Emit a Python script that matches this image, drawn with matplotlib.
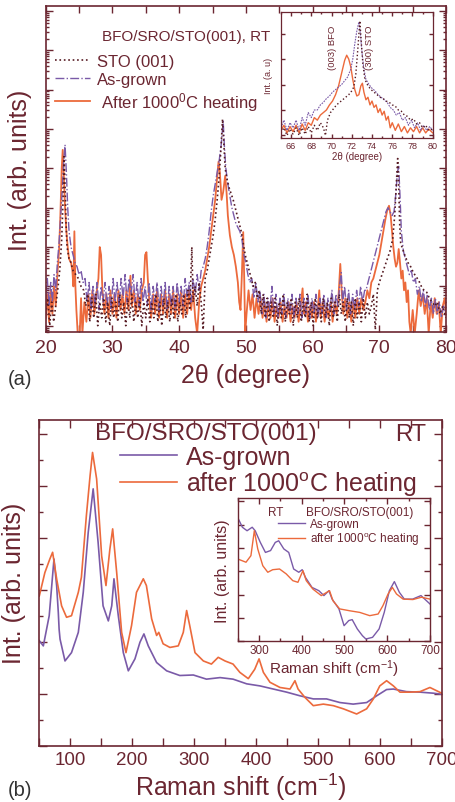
import numpy as np
import matplotlib
matplotlib.use("Agg")
import matplotlib.pyplot as plt
from matplotlib.ticker import MultipleLocator, LogLocator, NullFormatter, NullLocator

plt.rcParams['font.family'] = ['Liberation Sans', 'DejaVu Sans']
plt.rcParams['mathtext.fontset'] = 'custom'
plt.rcParams['mathtext.rm'] = 'Liberation Sans'
plt.rcParams['mathtext.it'] = 'Liberation Sans:italic'

MAROON = '#6b2631'
ORANGE = '#ec6a3c'
PURPLE = '#7a5aa8'
DARK = '#561a22'

# ---------------- (a) XRD, values are log10(intensity) ----------------
sto_a = [(20.0, 0.3), (20.3, 0.7), (20.6, 0.0), (20.9, 0.6), (21.2, 0.1), (21.5, 0.5), (21.8, 0.9),
         (22.1, 1.4), (22.4, 2.2), (22.6, 3.2), (22.75, 4.3), (22.9, 3.6), (23.05, 2.6), (23.2, 2.0),
         (23.5, 1.7), (23.8, 1.6), (24.1, 1.4), (24.5, 1.3), (24.9, 1.2), (25.3, 1.0), (25.7, 0.9),
         (26.0, 0.5), (26.3, 0.8), (26.6, 0.1), (26.9, 0.7), (27.2, 0.2), (27.5, 0.8), (27.8, 0.0),
         (28.1, 0.6), (28.4, 0.2), (28.7, 0.7), (29.0, 0.1), (29.3, 0.6), (29.6, 0.0), (29.9, 0.7),
         (30.2, 0.2), (30.5, 0.6), (30.8, 0.1), (31.1, 0.8), (31.4, 0.2), (31.7, 0.6), (32.0, 0.0),
         (32.3, 0.7), (32.6, 0.2), (32.9, 0.8), (33.2, 0.1), (33.5, 0.6), (33.8, 0.2), (34.1, 0.7),
         (34.4, 0.0), (34.7, 0.6), (35.0, 0.2), (35.3, 0.7), (35.6, 0.1), (35.9, 0.6), (36.2, 0.2),
         (36.5, 0.8), (36.8, 0.1), (37.1, 0.6), (37.4, 0.0), (37.7, 0.7), (38.0, 0.2), (38.3, 0.6),
         (38.6, 0.1), (38.9, 0.7), (39.2, 0.2), (39.5, 0.8), (39.8, 0.1), (40.1, 0.6), (40.4, 0.3),
         (40.7, 0.8), (41.0, 0.2), (41.3, 0.9), (41.6, 0.4), (41.9, 2.0), (42.1, 0.6), (42.4, 1.0),
         (42.7, 0.5), (43.0, 1.1), (43.3, 0.6), (43.6, -0.1), (43.9, 1.2), (44.2, 1.4), (44.5, 1.7),
         (44.8, 2.0), (45.1, 2.3), (45.4, 2.7), (45.7, 3.2), (46.0, 3.8), (46.3, 4.6), (46.5, 5.25),
         (46.7, 4.6), (46.9, 4.0), (47.2, 3.7), (47.5, 3.5), (47.8, 3.35), (48.1, 3.2), (48.4, 3.0),
         (48.7, 2.8), (49.0, 2.6), (49.3, 2.4), (49.6, 2.1), (49.9, 1.8), (50.2, 1.6), (50.5, 1.4),
         (50.8, 1.2), (51.1, 1.0), (51.4, 1.1), (51.7, 0.7), (52.0, 0.9), (52.3, 0.3), (52.6, 0.8),
         (52.9, 0.2), (53.2, 0.7), (53.5, 0.1), (53.8, 0.6), (54.1, 0.2), (54.4, 0.7), (54.7, 0.0),
         (55.0, 0.6), (55.3, 0.2), (55.6, 0.8), (55.9, 0.1), (56.2, 0.6), (56.5, 0.3), (56.8, 0.7),
         (57.1, 0.0), (57.4, 0.6), (57.7, 0.2), (58.0, 0.7), (58.3, 0.1), (58.6, 0.6), (58.9, 0.2),
         (59.2, 0.8), (59.5, 0.1), (59.8, 0.6), (60.1, 0.0), (60.4, 0.7), (60.7, 0.2), (61.0, 0.6),
         (61.3, 0.1), (61.6, 0.7), (61.9, 0.2), (62.2, 0.6), (62.5, 0.0), (62.8, 0.7), (63.1, 0.2),
         (63.4, 0.6), (63.7, 0.1), (64.0, 0.8), (64.3, 0.3), (64.6, 0.6), (64.9, 0.1), (65.2, 0.7),
         (65.5, 0.2), (65.8, 0.6), (66.1, 0.0), (66.4, 0.7), (66.7, 0.2), (67.0, 0.6), (67.3, 0.1),
         (67.6, 0.7), (67.9, 0.2), (68.2, 0.6), (68.5, 0.3), (68.8, 0.5), (69.1, 0.8), (69.4, -0.1),
         (69.7, 0.9), (70.0, 1.1), (70.4, 1.3), (70.8, 1.5), (71.2, 1.7), (71.6, 1.9), (72.0, 2.2),
         (72.3, 2.8), (72.55, 3.6), (72.75, 4.25), (72.9, 3.6), (73.05, 2.6), (73.2, 2.1), (73.5, 1.95),
         (73.9, 1.75), (74.3, 1.6), (74.7, 1.5), (75.1, 1.35), (75.5, 1.25), (75.9, 1.15), (76.3, 1.0),
         (76.7, 0.9), (77.1, 0.85), (77.5, 0.7), (77.9, 0.6), (78.3, 0.5), (78.7, 0.6), (79.1, 0.3),
         (79.5, 0.5), (80.0, 0.2)]

grown_a = [(20.0, 0.8), (20.25, 1.2), (20.5, 0.5), (20.75, 1.1), (21.0, 0.6), (21.25, 1.3), (21.5, 0.9),
           (21.75, 1.6), (22.0, 2.1), (22.25, 2.8), (22.5, 3.5), (22.7, 4.2), (22.9, 4.6), (23.1, 3.9),
           (23.3, 3.0), (23.5, 2.4), (23.8, 2.0), (24.1, 1.8), (24.4, 1.6), (24.7, 1.5), (25.0, 1.3),
           (25.3, 1.4), (25.6, 1.1), (25.9, 1.2), (26.2, 0.6), (26.5, 1.1), (26.8, 0.4), (27.1, 1.0),
           (27.4, 0.5), (27.7, 1.1), (28.0, 0.4), (28.3, 1.0), (28.6, 0.6), (28.9, 1.1), (29.2, 0.5),
           (29.5, 1.0), (29.8, 0.4), (30.1, 1.2), (30.4, 0.6), (30.7, 1.1), (31.0, 0.5), (31.3, 1.2),
           (31.6, 0.7), (31.9, 1.3), (32.2, 0.6), (32.5, 1.2), (32.8, 0.8), (33.1, 1.3), (33.4, 0.6),
           (33.7, 1.1), (34.0, 0.5), (34.3, 1.2), (34.6, 0.6), (34.9, 1.0), (35.2, 0.5), (35.5, 1.1),
           (35.8, 0.4), (36.1, 1.0), (36.4, 0.6), (36.7, 1.1), (37.0, 0.4), (37.3, 1.0), (37.6, 0.5),
           (37.9, 1.1), (38.2, 0.4), (38.5, 1.0), (38.8, 0.5), (39.1, 1.0), (39.4, 0.4), (39.7, 1.1),
           (40.0, 0.6), (40.3, 1.0), (40.6, 0.5), (40.9, 1.2), (41.2, 0.7), (41.5, 1.1), (41.8, 0.6),
           (42.1, 1.2), (42.4, 0.8), (42.7, 1.3), (43.0, 0.9), (43.3, 1.4), (43.6, 1.5), (43.9, 1.7),
           (44.2, 2.0), (44.5, 2.4), (44.8, 2.9), (45.1, 3.3), (45.4, 3.6), (45.7, 3.9), (46.0, 4.2),
           (46.3, 4.6), (46.6, 5.2), (46.8, 4.5), (47.0, 4.0), (47.3, 3.6), (47.6, 3.3), (47.9, 3.0),
           (48.2, 2.8), (48.5, 2.6), (48.8, 2.5), (49.1, 2.4), (49.4, 2.2), (49.7, 1.8), (50.0, 1.6),
           (50.3, 1.3), (50.6, 1.1), (50.9, 1.2), (51.2, 0.7), (51.5, 1.1), (51.8, 0.6), (52.1, 0.9),
           (52.4, 0.3), (52.7, 0.8), (53.0, 0.2), (53.3, 0.7), (53.6, 0.4), (53.9, 1.0), (54.2, 0.3),
           (54.5, 0.8), (54.8, 0.2), (55.1, 0.7), (55.4, 0.3), (55.7, 0.8), (56.0, 0.2), (56.3, 0.7),
           (56.6, 0.3), (56.9, 0.8), (57.2, 0.2), (57.5, 0.7), (57.8, 0.3), (58.1, 0.8), (58.4, 0.2),
           (58.7, 0.7), (59.0, 0.3), (59.3, 0.8), (59.6, 0.2), (59.9, 0.7), (60.2, 0.3), (60.5, 0.8),
           (60.8, 0.2), (61.1, 0.7), (61.4, 0.3), (61.7, 0.8), (62.0, 0.2), (62.3, 0.7), (62.6, 0.4),
           (62.9, 0.9), (63.2, 0.3), (63.5, 0.8), (63.8, 0.5), (64.1, 1.1), (64.3, 1.35), (64.5, 0.6),
           (64.8, 1.0), (65.1, 0.4), (65.4, 0.9), (65.7, 0.3), (66.0, 0.8), (66.3, 0.4), (66.6, 0.9),
           (66.9, 0.5), (67.2, 1.0), (67.5, 0.6), (67.8, 0.9), (68.0, 0.9), (68.3, 1.1), (68.6, 1.3),
           (68.9, 1.5), (69.2, 1.7), (69.5, 1.9), (69.8, 2.1), (70.1, 2.3), (70.4, 2.5), (70.7, 2.7),
           (71.0, 2.9), (71.3, 3.0), (71.6, 2.9), (71.9, 2.8), (72.2, 2.9), (72.5, 3.4), (72.7, 3.9),
           (72.9, 4.05), (73.1, 3.3), (73.3, 2.4), (73.6, 1.9), (73.9, 1.7), (74.2, 1.5), (74.5, 1.3),
           (74.8, 1.4), (75.1, 1.1), (75.4, 1.2), (75.7, 0.8), (76.0, 1.0), (76.3, 0.6), (76.6, 0.9),
           (76.9, 0.5), (77.2, 0.8), (77.5, 0.4), (77.8, 0.7), (78.1, 0.3), (78.4, 0.7), (78.7, 0.3),
           (79.0, 0.6), (79.3, 0.2), (79.6, 0.5), (80.0, 0.3)]

heated_a = [(20.0, 0.2), (20.25, 0.8), (20.5, 0.1), (20.75, 0.9), (21.0, 0.3), (21.25, 1.0), (21.5, 0.5),
            (21.75, 1.3), (22.0, 1.9), (22.2, 2.8), (22.4, 4.0), (22.55, 4.47), (22.7, 3.9), (22.9, 3.0),
            (23.1, 2.4), (23.3, 2.0), (23.5, 1.7), (23.8, 1.6), (24.0, 1.4), (24.15, 1.0), (24.3, 2.4),
            (24.45, 1.0), (24.6, 0.4), (24.8, -0.2), (25.1, -0.2), (25.3, 0.7), (25.5, -0.2), (25.8, 0.6),
            (26.1, 0.1), (26.4, 0.8), (26.7, 0.2), (27.0, 0.9), (27.3, 0.3), (27.6, 0.8), (27.9, 1.2),
            (28.1, 2.0), (28.3, 1.8), (28.5, 0.9), (28.8, 0.3), (29.1, 0.8), (29.4, 0.2), (29.7, 0.9),
            (30.0, 0.3), (30.3, 0.8), (30.6, 0.2), (30.9, 0.9), (31.2, 0.4), (31.5, 0.8), (31.8, 0.3),
            (32.1, 0.9), (32.4, 0.4), (32.7, 1.27), (32.9, 0.5), (33.2, 0.9), (33.5, 0.3), (33.8, 0.8),
            (34.1, 0.4), (34.4, 0.9), (34.7, 1.1), (34.9, 1.8), (35.1, 1.87), (35.3, 1.2), (35.5, 0.7),
            (35.8, 0.2), (36.1, 0.8), (36.4, 0.3), (36.7, 0.9), (37.0, 0.2), (37.3, 0.8), (37.6, 0.3),
            (37.9, 0.9), (38.2, 0.2), (38.5, 0.8), (38.8, 0.3), (39.1, 0.9), (39.4, 0.2), (39.7, 0.8),
            (40.0, 0.3), (40.3, 0.9), (40.6, 0.2), (40.9, 0.8), (41.2, 0.3), (41.5, 0.9), (41.8, 0.4),
            (42.1, 0.9), (42.4, 0.2), (42.7, -0.2), (43.0, 0.6), (43.3, 1.0), (43.6, 1.2), (43.9, 1.4),
            (44.2, 1.7), (44.5, 2.0), (44.8, 2.4), (45.1, 2.8), (45.4, 3.2), (45.7, 3.8), (45.9, 4.17),
            (46.1, 3.9), (46.35, 3.2), (46.6, 3.4), (46.9, 3.81), (47.1, 3.4), (47.3, 2.8), (47.6, 2.3),
            (47.9, 2.0), (48.2, 1.8), (48.5, 1.5), (48.8, 1.1), (49.0, 0.6), (49.2, 0.4), (49.4, 1.3),
            (49.6, 2.38), (49.75, 1.2), (49.9, -0.2), (50.1, 0.3), (50.4, 0.9), (50.7, 0.4), (51.0, 0.8),
            (51.3, 0.2), (51.6, 0.7), (51.9, 0.3), (52.2, 0.7), (52.5, 0.2), (52.8, 0.6), (53.1, 0.1),
            (53.4, 0.6), (53.7, 0.2), (54.0, 0.7), (54.3, 0.1), (54.6, 0.5), (54.9, 0.2), (55.2, 0.6),
            (55.5, 0.1), (55.8, 0.5), (56.1, 0.2), (56.4, 0.6), (56.7, 0.1), (57.0, 0.5), (57.3, 0.2),
            (57.6, 0.6), (57.9, 0.1), (58.2, 0.5), (58.5, 0.95), (58.7, 0.3), (59.0, 0.6), (59.3, 0.1),
            (59.6, 0.5), (59.9, 0.2), (60.2, 0.6), (60.5, 0.1), (60.8, 0.5), (61.0, 0.9), (61.2, 0.2),
            (61.5, 0.6), (61.8, 0.1), (62.1, 0.5), (62.4, 0.2), (62.7, 0.6), (63.0, 0.1), (63.3, 0.6),
            (63.6, 0.3), (63.9, 0.8), (64.15, 1.57), (64.35, 0.9), (64.6, 0.3), (64.9, 0.7), (65.2, 0.2),
            (65.5, 0.6), (65.8, 0.1), (66.1, 0.6), (66.4, 0.2), (66.7, 0.7), (67.0, 0.3), (67.3, 0.7),
            (67.6, 0.4), (67.9, 0.6), (68.2, 0.9), (68.5, 0.7), (68.8, 1.1), (69.1, 1.2), (69.4, 1.4),
            (69.7, 1.6), (70.0, 1.8), (70.3, 2.1), (70.6, 2.4), (70.9, 2.7), (71.2, 2.95), (71.45, 3.05),
            (71.7, 2.8), (71.9, 2.4), (72.1, 2.0), (72.3, 1.7), (72.5, 1.5), (72.7, 1.6), (72.9, 1.95),
            (73.1, 1.6), (73.3, 1.2), (73.5, 1.4), (73.7, 0.9), (73.9, 1.1), (74.1, 0.6), (74.3, 0.9),
            (74.5, 0.1), (74.7, -0.2), (75.0, 0.4), (75.3, -0.2), (75.6, 0.3), (75.9, 0.9), (76.2, 0.5),
            (76.5, 0.8), (76.8, 0.3), (77.1, 0.7), (77.4, -0.2), (77.7, 0.6), (78.0, 0.2), (78.3, 0.7),
            (78.6, 0.3), (78.9, 0.6), (79.2, -0.2), (79.5, 0.5), (79.8, 0.7), (80.0, 0.3)]

# inset of (a), 65-80 deg, log10 values
heated_ai = [(65.0, 0.2), (65.3, 0.4), (65.6, 0.1), (65.9, 0.35), (66.2, 0.15), (66.5, 0.4), (66.8, 0.1),
             (67.1, 0.45), (67.4, 0.2), (67.7, 0.5), (68.0, 0.4), (68.3, 0.7), (68.6, 0.6), (68.9, 0.8),
             (69.2, 0.9), (69.5, 1.0), (69.8, 1.2), (70.1, 1.35), (70.4, 1.6), (70.7, 1.95), (71.0, 2.45),
             (71.3, 2.95), (71.5, 3.15), (71.7, 3.0), (71.9, 2.7), (72.1, 2.2), (72.3, 1.8), (72.5, 1.55),
             (72.7, 1.6), (72.9, 1.95), (73.05, 2.05), (73.2, 1.7), (73.4, 1.4), (73.6, 1.5), (73.8, 1.2),
             (74.0, 1.35), (74.2, 1.1), (74.4, 1.2), (74.6, 0.9), (74.8, 1.05), (75.0, 0.8), (75.2, 0.95),
             (75.4, 0.6), (75.6, 0.75), (75.8, 0.3), (76.0, 0.5), (76.3, 0.2), (76.6, 0.45), (76.9, 0.15),
             (77.2, 0.35), (77.5, 0.1), (77.8, 0.3), (78.1, 0.15), (78.4, 0.35), (78.7, 0.1), (79.0, 0.3),
             (79.3, 0.1), (79.6, 0.25), (80.0, 0.1)]
grown_ai = [(65.0, 0.3), (65.3, 0.6), (65.6, 0.2), (65.9, 0.5), (66.2, 0.3), (66.5, 0.6), (66.8, 0.2),
            (67.1, 0.7), (67.4, 0.4), (67.7, 0.9), (68.0, 0.7), (68.3, 1.0), (68.6, 1.0), (68.9, 1.2),
            (69.2, 1.3), (69.5, 1.45), (69.8, 1.55), (70.1, 1.7), (70.4, 1.8), (70.7, 1.9), (71.0, 2.0),
            (71.3, 2.15), (71.6, 2.3), (71.9, 2.6), (72.1, 3.0), (72.3, 3.6), (72.5, 4.1), (72.7, 4.45),
            (72.85, 4.0), (73.0, 3.3), (73.2, 2.6), (73.4, 2.2), (73.7, 2.0), (74.0, 1.85), (74.3, 1.75),
            (74.6, 1.6), (74.9, 1.5), (75.2, 1.4), (75.5, 1.3), (75.8, 1.1), (76.1, 1.0), (76.4, 0.8),
            (76.7, 0.9), (77.0, 0.6), (77.3, 0.7), (77.6, 0.4), (77.9, 0.6), (78.2, 0.3), (78.5, 0.5),
            (78.8, 0.2), (79.1, 0.4), (79.4, 0.2), (79.7, 0.35), (80.0, 0.2)]
sto_ai = [(65.0, 0.1), (65.3, 0.3), (65.6, 0.0), (65.9, 0.25), (66.2, 0.05), (66.5, 0.3), (66.8, 0.0),
          (67.1, 0.3), (67.4, 0.05), (67.7, 0.35), (68.0, 0.1), (68.3, 0.4), (68.6, 0.2), (68.9, 0.5),
          (69.2, 0.3), (69.4, 0.0), (69.6, 0.6), (69.9, 0.9), (70.2, 1.05), (70.5, 1.2), (70.8, 1.3),
          (71.1, 1.4), (71.4, 1.5), (71.7, 1.6), (72.0, 1.75), (72.2, 1.9), (72.4, 2.4), (72.6, 3.4),
          (72.8, 4.5), (72.95, 3.6), (73.1, 2.8), (73.3, 2.2), (73.6, 1.95), (73.9, 1.8), (74.2, 1.7),
          (74.5, 1.6), (74.8, 1.5), (75.1, 1.45), (75.4, 1.35), (75.7, 1.3), (76.0, 1.2), (76.3, 1.15),
          (76.6, 1.0), (76.9, 0.95), (77.2, 0.8), (77.5, 0.75), (77.8, 0.6), (78.1, 0.65), (78.4, 0.45),
          (78.7, 0.5), (79.0, 0.3), (79.3, 0.4), (79.6, 0.2), (80.0, 0.25)]

# ---------------- (b) Raman, arbitrary linear units ----------------
grown_b = [(50, 2.02), (56.5, 1.92), (66, 2.50), (73.7, 3.59), (78, 3.08), (80.7, 2.56), (82, 2.24),
           (83.5, 2.05), (91.5, 1.63), (102, 1.79), (113, 2.18), (121, 2.95), (129, 4.10), (137, 4.94),
           (145, 3.91), (153, 2.69), (161.5, 2.40), (167, 2.69), (170.6, 3.21), (177.6, 2.50),
           (185.7, 1.79), (193.8, 1.44), (204.5, 1.67), (212.6, 1.99), (219, 2.15), (226, 1.92),
           (239.5, 1.60), (255.7, 1.44), (277, 1.35), (298.8, 1.36), (320, 1.28), (342, 1.31),
           (363, 1.28), (385, 1.19), (406.5, 1.15), (428, 1.09), (449.6, 1.03), (471, 0.96),
           (492.6, 0.90), (514, 0.90), (535.7, 0.83), (557, 0.80), (578.8, 0.83), (595, 0.96),
           (611, 1.08), (621.9, 1.09), (643, 1.04), (665, 1.03), (686.5, 1.01), (700, 0.99)]
heated_b = [(50, 2.88), (59, 3.33), (67, 3.59), (71.5, 3.72), (78, 3.21), (86, 2.69), (94, 2.47),
            (102, 2.50), (113, 2.95), (118, 3.24), (126, 4.42), (132, 5.19), (136, 5.64), (142.6, 5.13),
            (150.7, 3.65), (157.7, 3.08), (164, 3.78), (168.5, 4.17), (175, 3.33), (183, 2.18),
            (190, 1.79), (199, 2.31), (207, 2.95), (218, 3.21), (223, 3.08), (231.5, 2.44), (239.5, 2.12),
            (243, 2.18), (250, 1.96), (261, 1.89), (274.5, 1.92), (282.6, 2.18), (288, 2.60), (293, 2.31),
            (301.5, 1.79), (315, 1.63), (328, 1.57), (339, 1.70), (350, 1.63), (363, 1.57), (374, 1.41),
            (387.6, 1.29), (398, 1.47), (405, 1.67), (412, 1.41), (422.6, 1.22), (438.8, 1.12),
            (455, 1.09), (463, 1.25), (468, 1.09), (479, 0.93), (492.6, 0.77), (508.8, 0.80), (525, 0.77),
            (541, 0.71), (562.6, 0.61), (578.8, 0.71), (589.6, 0.90), (600, 1.15), (611, 1.25),
            (622, 1.15), (632.6, 1.03), (649, 1.03), (665, 1.04), (681, 1.12), (700, 1.01)]

grown_bi = [(250, 5.31), (261, 4.89), (272, 4.74), (284, 4.89), (291, 4.74), (303, 4.24), (315, 3.81),
            (327, 3.89), (338, 4.24), (346, 4.31), (358, 3.96), (369.5, 3.81), (381, 3.10), (393, 2.96),
            (401, 3.07), (408.6, 2.74), (424, 2.31), (440, 2.17), (451.8, 1.96), (463.5, 2.17), (471, 1.81),
            (487, 1.39), (499, 0.67), (510, 0.89), (518, 0.93), (530, 0.53), (542, 0.24), (550, 0.10),
            (565.6, 0.17), (581, 0.53), (593, 1.24), (605, 2.17), (616.7, 2.56), (628.4, 2.10),
            (640, 1.81), (659.5, 1.81), (679, 1.96), (700, 1.60)]
heated_bi = [(250, 3.53), (269.5, 3.39), (281, 3.67), (289, 4.74), (297, 3.96), (308.8, 3.24), (320.5, 2.96),
             (332, 3.07), (348, 3.10), (363.6, 2.89), (379, 2.60), (391, 2.53), (402.7, 3.03), (410.5, 2.60),
             (426, 2.24), (445.6, 1.96), (465, 2.17), (473, 1.74), (488.6, 1.39), (512, 1.31), (535.6, 1.24),
             (559, 1.10), (578.7, 1.17), (590, 1.53), (602, 2.03), (612, 2.31), (621.6, 2.03), (637, 1.81),
             (660, 1.79), (680, 1.89), (700, 1.81)]


def split(pairs):
    arr = np.array(pairs, dtype=float)
    return arr[:, 0], arr[:, 1]


def style(ax, size, major=5, minor=3):
    for s in ax.spines.values():
        s.set_color(MAROON)
        s.set_linewidth(1.2)
    ax.tick_params(which='both', direction='in', top=True, right=True, colors=MAROON,
                   labelcolor=MAROON, labelsize=size, width=1.0)
    ax.tick_params(which='major', length=major)
    ax.tick_params(which='minor', length=minor)


fig = plt.figure(figsize=(4.56, 8.03), dpi=100)

# ---- panel (a)
ax = fig.add_axes([0.1002, 0.5853, 0.878, 0.4056])
x, y = split(heated_a)
h3, = ax.semilogy(x, 10 ** y, color=ORANGE, lw=1.3, label=' After 1000$^\\mathregular{0}$C heating')
x, y = split(grown_a)
h2, = ax.semilogy(x, 10 ** y, color=PURPLE, lw=1.0, ls='-.', label='As-grown')
x, y = split(sto_a)
h1, = ax.semilogy(x, 10 ** y, color=DARK, lw=1.2, ls=':', label='STO (001)')
ax.set_xlim(20, 80)
ax.set_ylim(10 ** -0.16, 10 ** 8.12)
ax.xaxis.set_major_locator(MultipleLocator(10))
ax.xaxis.set_minor_locator(MultipleLocator(5))
ax.yaxis.set_major_locator(LogLocator(base=10, numticks=20))
ax.yaxis.set_minor_locator(LogLocator(base=10, subs=np.arange(2, 10), numticks=20))
ax.yaxis.set_major_formatter(NullFormatter())
ax.yaxis.set_minor_formatter(NullFormatter())
style(ax, 14, major=5, minor=2.5)
ax.tick_params(axis='x', which='minor', length=5)
ax.tick_params(axis='x', which='major', pad=5)
ax.set_xlabel('2θ (degree)', fontsize=18, color=MAROON, labelpad=5)
ax.set_ylabel('Int. (arb. units)', fontsize=18, color=MAROON, labelpad=6)
ax.text(0.14, 0.91, 'BFO/SRO/STO(001), RT', transform=ax.transAxes, fontsize=11,
        color=MAROON, va='center', ha='left')
leg = ax.legend(handles=[h1, h2, h3], loc='upper left', bbox_to_anchor=(0.023, 0.853),
                frameon=False, fontsize=12, handlelength=2.1, handletextpad=0.45,
                labelspacing=0.17, borderpad=0, borderaxespad=0)
for t in leg.get_texts():
    t.set_color(MAROON)

# ---- inset (a)
ai = fig.add_axes([0.616, 0.8269, 0.333, 0.157])
x, y = split(heated_ai)
ai.semilogy(x, 10 ** y, color=ORANGE, lw=1.0)
x, y = split(grown_ai)
ai.semilogy(x, 10 ** y, color=PURPLE, lw=0.8, ls=(0, (1.5, 1)))
x, y = split(sto_ai)
ai.semilogy(x, 10 ** y, color=DARK, lw=1.0, ls=':')
ai.set_xlim(65, 80)
ai.set_ylim(10 ** -0.1, 10 ** 4.85)
ai.xaxis.set_major_locator(MultipleLocator(2))
ai.xaxis.set_minor_locator(MultipleLocator(1))
ai.yaxis.set_major_locator(LogLocator(base=10, numticks=10))
ai.yaxis.set_minor_locator(NullLocator())
ai.yaxis.set_major_formatter(NullFormatter())
style(ai, 6.5, major=3, minor=1.5)
for s in ai.spines.values():
    s.set_linewidth(0.9)
ai.tick_params(axis='x', pad=2)
ai.set_xlabel('2θ (degree)', fontsize=7, color=MAROON, labelpad=1)
ai.set_ylabel('Int. (a. u)', fontsize=6.5, color=MAROON, labelpad=2)
ai.text(0.34, 0.72, '(003) BFO', transform=ai.transAxes, rotation=90, fontsize=6.8,
        color=MAROON, ha='center', va='center')
ai.text(0.586, 0.72, '(300) STO', transform=ai.transAxes, rotation=90, fontsize=6.8,
        color=MAROON, ha='center', va='center')

fig.text(0.018, 0.528, '(a)', fontsize=14.5, color='#333333', va='center', ha='left')

# ---- panel (b)
bx = fig.add_axes([0.0862, 0.0701, 0.8824, 0.406])
x, y = split(grown_b)
g1, = bx.plot(x, y, color=PURPLE, lw=1.2, label='As-grown')
x, y = split(heated_b)
g2, = bx.plot(x, y, color=ORANGE, lw=1.2, label='after 1000$^\\mathregular{o}$C heating')
bx.set_xlim(50, 700)
bx.set_ylim(0, 6.27)
bx.xaxis.set_major_locator(MultipleLocator(100))
bx.xaxis.set_minor_locator(MultipleLocator(50))
bx.yaxis.set_major_locator(MultipleLocator(1))
bx.yaxis.set_minor_locator(MultipleLocator(0.5))
bx.yaxis.set_major_formatter(NullFormatter())
style(bx, 13.5, major=6, minor=3)
bx.tick_params(axis='x', which='minor', length=6)
bx.set_xlabel('Raman shift (cm$^\\mathregular{-1}$)', fontsize=18, color=MAROON, labelpad=2)
bx.set_ylabel('Int. (arb. units)', fontsize=18, color=MAROON, labelpad=6)
bx.text(0.414, 0.96, 'BFO/SRO/STO(001)', transform=bx.transAxes, fontsize=17.5,
        color=MAROON, ha='center', va='center')
bx.text(0.924, 0.955, 'RT', transform=bx.transAxes, fontsize=17,
        color=MAROON, ha='center', va='center')
leg = bx.legend(handles=[g1, g2], loc='upper left', bbox_to_anchor=(0.2, 0.922),
                frameon=False, fontsize=18, handlelength=2.3, handletextpad=0.35,
                labelspacing=0.0, borderpad=0, borderaxespad=0)
for t in leg.get_texts():
    t.set_color(MAROON)

# ---- inset (b)
bi = fig.add_axes([0.5212, 0.2001, 0.4217, 0.1781])
x, y = split(grown_bi)
bi.plot(x, y, color=PURPLE, lw=1.0, label='As-grown')
x, y = split(heated_bi)
bi.plot(x, y, color=ORANGE, lw=1.0, label='after 1000$^\\mathregular{o}$C heating')
bi.set_xlim(250, 700)
bi.set_ylim(0, 6.13)
bi.xaxis.set_major_locator(MultipleLocator(100))
bi.xaxis.set_minor_locator(MultipleLocator(50))
bi.yaxis.set_major_locator(MultipleLocator(1))
bi.yaxis.set_minor_locator(NullLocator())
bi.yaxis.set_major_formatter(NullFormatter())
style(bi, 8.5, major=4, minor=2)
for s in bi.spines.values():
    s.set_linewidth(1.0)
bi.tick_params(axis='x', pad=2)
bi.set_xlabel('Raman shift (cm$^\\mathregular{-1}$)', fontsize=11, color=MAROON, labelpad=1)
bi.set_ylabel('Int. (arb. units)', fontsize=11.5, color=MAROON, labelpad=2)
bi.text(0.199, 0.906, 'RT', transform=bi.transAxes, fontsize=8.5, color=MAROON,
        ha='center', va='center')
bi.text(0.636, 0.906, 'BFO/SRO/STO(001)', transform=bi.transAxes, fontsize=8.5, color=MAROON,
        ha='center', va='center')
leg = bi.legend(loc='upper left', bbox_to_anchor=(0.21, 0.86), frameon=False, fontsize=8.5,
                handlelength=2.3, handletextpad=0.4, labelspacing=0.0, borderpad=0,
                borderaxespad=0)
for t in leg.get_texts():
    t.set_color(MAROON)

fig.text(0.018, 0.016, '(b)', fontsize=14.5, color='#333333', va='center', ha='left')

fig.savefig('out.png', dpi=100)
